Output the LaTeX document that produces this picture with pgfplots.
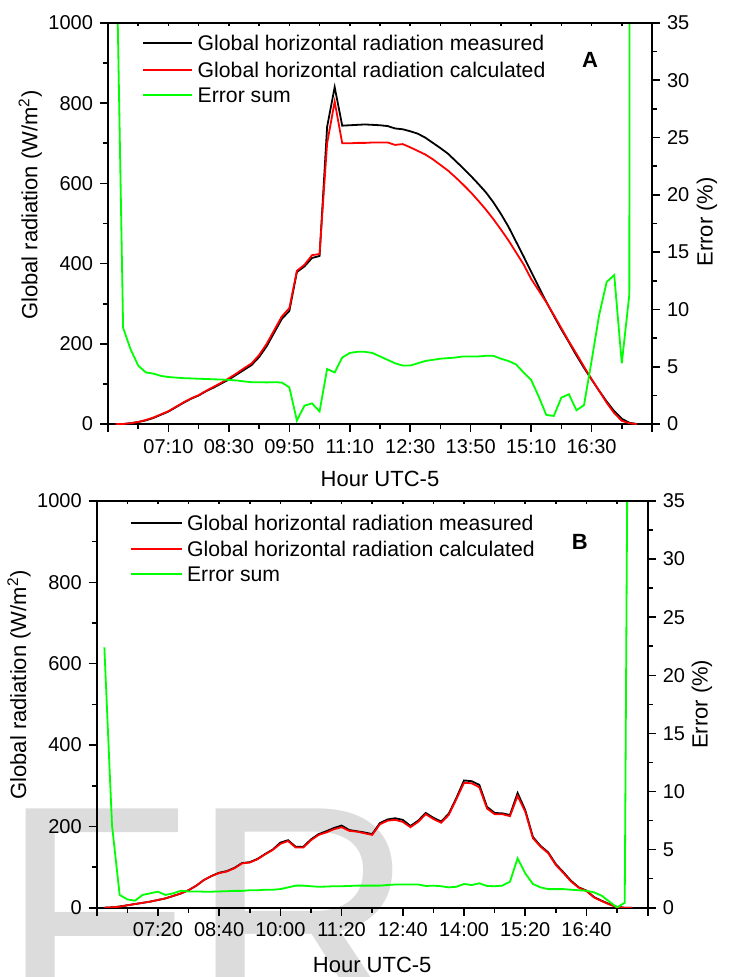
\documentclass[border=0pt]{standalone}
\usepackage{fontspec}
\setmainfont{Liberation Sans}
\usepackage{pgfplots}
\usepackage{pgfplotstable}
\pgfplotsset{compat=1.18}
\definecolor{errgreen}{RGB}{0,255,0}
\definecolor{calcred}{RGB}{255,0,0}
\definecolor{wmgray}{RGB}{220,220,220}

% t = minutes after midnight (UTC-5)
\pgfplotstableread{
t    meas calc err
360  0    0    46
370  0    0    8.4
380  2    2    6.5
390  5    5    5.1
400  9    10   4.5
410  15   16   4.4
420  23   24   4.2
430  31   32   4.1
440  42   43   4.05
450  53   54   4.0
460  63   64   3.98
470  71   72   3.95
480  82   83   3.93
490  91   93   3.9
500  101  103  3.88
510  111  114  3.85
520  123  126  3.8
530  135  139  3.72
540  147  151  3.65
550  167  172  3.65
560  194  200  3.63
570  228  234  3.65
580  262  268  3.62
590  282  289  3.2
600  379  382  0.3
610  393  397  1.6
620  414  421  1.8
630  419  424  1.1
640  741  700  4.8
650  840  804  4.5
660  744  700  5.8
670  745  700  6.2
680  746  701  6.3
690  747  701  6.3
700  746  702  6.2
710  745  702  5.9
720  743  702  5.6
730  737  696  5.3
740  735  698  5.1
750  730  690  5.1
760  724  681  5.3
770  714  672  5.5
780  701  660  5.6
790  688  646  5.7
800  674  632  5.75
810  656  615  5.8
820  638  597  5.9
830  619  578  5.9
840  599  557  5.9
850  578  535  5.95
860  553  511  5.95
870  524  485  5.7
880  492  458  5.5
890  455  428  5.2
900  418  398  4.5
910  380  362  3.85
920  342  333  2.4
930  305  304  0.8
940  270  272  0.7
950  236  239  2.3
960  204  206  2.6
970  171  175  1.2
980  140  143  1.65
990  111  112  5.5
1000 83   83   9.5
1010 56   53   12.4
1020 32   27   13.0
1030 13   8    5.3
1040 3    2    11.3
1050 0    0    1000
}\dayA

\pgfplotstableread{
t    meas calc err
370  0    0    22.4
380  1    1    7.1
390  3    2.5  1.1
400  6    6    0.72
410  9    9    0.6
420  12   12   1.1
430  15   15   1.24
440  19   19   1.38
450  23   23   1.1
460  29   29   1.24
470  35   35   1.46
480  43   43   1.4
490  54   54   1.4
500  68   68   1.38
510  78   78   1.38
520  86   85   1.4
530  90   89   1.42
540  98   97   1.45
550  110  109  1.45
560  112  111  1.5
570  120  119  1.5
580  132  131  1.55
590  143  142  1.55
600  160  157  1.6
610  166  164  1.75
620  150  148  1.9
630  150  148  1.9
640  168  166  1.85
650  181  179  1.8
660  188  185  1.82
670  196  193  1.85
680  202  198  1.85
690  191  189  1.87
700  188  187  1.9
710  185  183  1.9
720  181  179  1.9
730  208  205  1.9
740  217  214  1.95
750  220  216  2.0
760  216  211  2.0
770  201  198  2.0
780  214  211  2.0
790  233  230  1.87
800  221  218  1.9
810  212  209  1.85
820  231  228  1.75
830  270  267  1.8
840  313  307  2.04
850  311  306  1.95
860  302  296  2.1
870  248  244  1.87
880  233  230  1.85
890  232  230  1.9
900  228  225  2.24
910  282  275  4.25
920  240  236  2.96
930  174  171  2.04
940  152  150  1.75
950  136  134  1.6
960  107  105  1.6
970  87   85   1.6
980  66   64   1.55
990  50   49   1.5
1000 42   41   1.46
1010 26   25   1.32
1020 17   16   1.03
1030 9    8    0.52
1040 2    1    0.03
1050 0    0    0.43
1060 0    0    110
}\dayB

\tikzset{
  meas/.style={black, line width=0.9pt},
  calc/.style={calcred, line width=0.9pt},
  errs/.style={errgreen, line width=0.9pt},
  legtext/.style={anchor=west, inner sep=0pt, text height=7.6pt,
    text depth=0pt, font=\fontsize{10.6}{12}\selectfont},
}

\pgfplotsset{
  /pgf/number format/assume math mode=true,
  /pgf/number format/1000 sep={},
  radax/.style={
    scale only axis, anchor=south west,
    ymin=0, ymax=1000, ytick={0,200,...,1000},
    minor y tick num=1, minor x tick num=1,
    tick align=outside, xtick pos=left, ytick pos=left,
    axis line style={line width=0.8pt},
    every tick/.style={black, line width=0.8pt},
    major tick length=4pt, minor tick length=2.6pt,
    tick label style={font=\fontsize{10}{12}\selectfont},
    label style={font=\fontsize{11}{13}\selectfont},
    xlabel={Hour UTC-5},
    ylabel={Global radiation (W/m\textsuperscript{2})},
  },
  errax/.style={
    scale only axis, anchor=south west,
    axis x line=none, axis y line*=right,
    ymin=0, ymax=35, ytick={0,5,...,35}, minor y tick num=1,
    tick align=outside,
    axis line style={line width=0.8pt},
    every tick/.style={black, line width=0.8pt},
    major tick length=4pt, minor tick length=2.6pt,
    tick label style={font=\fontsize{10}{12}\selectfont},
    label style={font=\fontsize{11}{13}\selectfont},
    ylabel={Error (\%)},
  },
  topax/.style={
    scale only axis, anchor=south west,
    axis x line*=top, axis y line=none, ymin=0, ymax=1,
    tick align=inside, xticklabels={},
    axis line style={line width=0.8pt},
    every tick/.style={black, line width=0.8pt},
    major tick length=1.6pt,
  },
}

\begin{document}
\begin{tikzpicture}
\useasboundingbox (0,0) rectangle (365.5pt,-488.5pt);
\node[anchor=base west, inner sep=0pt, outer sep=0pt, text=wmgray,
  font=\fontsize{156}{156}\selectfont] at (0pt,-511.5pt) {FR};

% ---------- panel A ----------
\begin{axis}[radax, at={(54pt,-212pt)}, width=272pt, height=200.5pt,
  xmin=350, xmax=1070, xtick={350,430,...,1070},
  xticklabels={,07:10,08:30,09:50,11:10,12:30,13:50,15:10,16:30,},
  xlabel style={at={(axis description cs:0.5,-0.137)}, anchor=center},
  ylabel style={at={(axis description cs:-0.143,0.546)}, anchor=center}]
  \addplot[meas] table[x=t, y=meas] {\dayA};
  \addplot[calc] table[x=t, y=calc] {\dayA};
  % legend
  \draw[meas] (axis description cs:0.0643,0.9494) -- (axis description cs:0.1539,0.9494);
  \node[legtext] at (axis description cs:0.1642,0.9494) {Global horizontal radiation measured};
  \draw[calc] (axis description cs:0.0643,0.8828) -- (axis description cs:0.1539,0.8828);
  \node[legtext] at (axis description cs:0.1642,0.8828) {Global horizontal radiation calculated};
  \draw[errs] (axis description cs:0.0643,0.8204) -- (axis description cs:0.1539,0.8204);
  \node[legtext] at (axis description cs:0.1642,0.8204) {Error sum};
  \node[font=\bfseries\fontsize{11}{13}\selectfont] at (rel axis cs:0.886,0.908) {A};
\end{axis}
\begin{axis}[errax, at={(54pt,-212pt)}, width=272pt, height=200.5pt,
  xmin=350, xmax=1070,
  ylabel style={at={(axis description cs:1.101,0.504)}, anchor=center}]
  \addplot[errs] table[x=t, y=err] {\dayA};
\end{axis}
\begin{axis}[topax, at={(54pt,-212pt)}, width=272pt, height=200.5pt,
  xmin=350, xmax=1070, xtick={350,390,...,1070}]
\end{axis}

% ---------- panel B ----------
\begin{axis}[radax, at={(48.35pt,-453.85pt)}, width=275.5pt, height=203.35pt,
  xmin=360, xmax=1080, xtick={360,440,...,1080},
  xticklabels={,07:20,08:40,10:00,11:20,12:40,14:00,15:20,16:40,},
  xlabel style={at={(axis description cs:0.5,-0.141)}, anchor=center},
  ylabel style={at={(axis description cs:-0.141,0.548)}, anchor=center}]
  \addplot[meas] table[x=t, y=meas] {\dayB};
  \addplot[calc] table[x=t, y=calc] {\dayB};
  % legend
  \draw[meas] (axis description cs:0.0617,0.9452) -- (axis description cs:0.1543,0.9452);
  \node[legtext] at (axis description cs:0.1633,0.9452) {Global horizontal radiation measured};
  \draw[calc] (axis description cs:0.0617,0.8812) -- (axis description cs:0.1543,0.8812);
  \node[legtext] at (axis description cs:0.1633,0.8812) {Global horizontal radiation calculated};
  \draw[errs] (axis description cs:0.0617,0.8205) -- (axis description cs:0.1543,0.8205);
  \node[legtext] at (axis description cs:0.1633,0.8205) {Error sum};
  \node[font=\bfseries\fontsize{11}{13}\selectfont] at (rel axis cs:0.877,0.9) {B};
\end{axis}
\begin{axis}[errax, at={(48.35pt,-453.85pt)}, width=275.5pt, height=203.35pt,
  xmin=360, xmax=1080,
  ylabel style={at={(axis description cs:1.0985,0.5)}, anchor=center}]
  \addplot[errs] table[x=t, y=err] {\dayB};
\end{axis}
\begin{axis}[topax, at={(48.35pt,-453.85pt)}, width=275.5pt, height=203.35pt,
  xmin=360, xmax=1080, xtick={360,400,...,1080}]
\end{axis}
\end{tikzpicture}
\end{document}
